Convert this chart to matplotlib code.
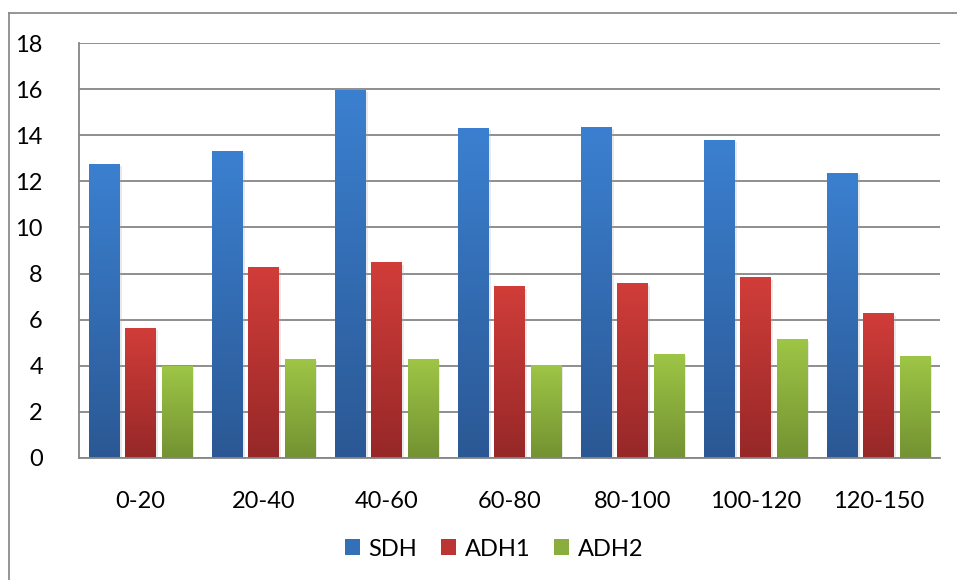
import matplotlib
matplotlib.use("Agg")
import matplotlib.pyplot as plt
import numpy as np
from matplotlib.patches import Patch
from matplotlib.colors import LinearSegmentedColormap
import matplotlib.patheffects as pe

categories = ["0-20", "20-40", "40-60", "60-80", "80-100", "100-120", "120-150"]
sdh = [12.74, 13.31, 15.96, 14.30, 14.35, 13.78, 12.35]
adh1 = [5.66, 8.27, 8.48, 7.44, 7.57, 7.83, 6.27]
adh2 = [4.01, 4.31, 4.31, 4.05, 4.53, 5.18, 4.41]
series_names = ["SDH", "ADH1", "ADH2"]
yticks = [0, 2, 4, 6, 8, 10, 12, 14, 16, 18]

grad = {
    "SDH": ("#3B80D0", "#2B5894"),
    "ADH1": ("#D13D39", "#962828"),
    "ADH2": ("#9EC646", "#739232"),
}
mid = {"SDH": "#3470B8", "ADH1": "#BC3534", "ADH2": "#8AAE3E"}

plt.rcParams['font.family'] = ['Lato', 'DejaVu Sans']

W, H = 957, 580
fig = plt.figure(figsize=(W / 100, H / 100), dpi=100)
ax = fig.add_axes([79 / W, 1 - 458 / H, (940 - 79) / W, (458 - 43) / H])

x = np.arange(len(categories))
width = 0.244
offsets = [-0.293, 0.0, 0.293]
data = [sdh, adh1, adh2]

ax.set_xlim(-0.5, len(categories) - 0.5)
ax.set_ylim(0, 18)

grid_c = "#868686"
for y in yticks:
    ax.axhline(y, color=grid_c, lw=1.3, zorder=1)

for name, vals, off in zip(series_names, data, offsets):
    bars = ax.bar(x + off, vals, width, color=mid[name], zorder=2,
                  path_effects=[pe.SimplePatchShadow(offset=(2, -1.5), shadow_rgbFace="#aaaaaa", alpha=0.25),
                                pe.Normal()])
    top_c, bot_c = grad[name]
    cmap = LinearSegmentedColormap.from_list(name, [bot_c, top_c])
    for b in bars:
        x0, y0 = b.get_x(), b.get_y()
        w, h = b.get_width(), b.get_height()
        g = np.linspace(0, 1, 256).reshape(-1, 1)
        im = ax.imshow(g, cmap=cmap, origin="lower", aspect="auto",
                       extent=[x0, x0 + w, y0, y0 + h], zorder=3, interpolation="bilinear")
        im.set_clip_path(b)

ax.set_xlim(-0.5, len(categories) - 0.5)
ax.set_ylim(0, 18)

for s in ["top", "right"]:
    ax.spines[s].set_visible(False)
for s in ["left", "bottom"]:
    ax.spines[s].set_color(grid_c)
    ax.spines[s].set_linewidth(1.3)
    ax.spines[s].set_zorder(4)

ax.set_yticks(yticks)
ax.set_yticklabels([str(v) for v in yticks], fontsize=17, color="#000000")
ax.set_xticks(x)
ax.set_xticklabels(categories, fontsize=17, color="#000000")
ax.tick_params(axis="y", length=0, pad=26)
ax.tick_params(axis="x", length=0, pad=24)

handles = [Patch(facecolor=mid[n], edgecolor="none", label=n) for n in series_names]
fig.legend(handles=handles, loc="center", bbox_to_anchor=(494 / W, 1 - 549 / H), ncol=3,
           frameon=False, fontsize=17, handlelength=0.65, handleheight=0.65,
           handletextpad=0.35, columnspacing=1.0)

# outer chart border (left and top visible)
fig.add_artist(plt.Line2D([9 / W, 9 / W], [0, 1 - 13 / H], transform=fig.transFigure,
                          color="#8c8c8c", lw=1.3))
fig.add_artist(plt.Line2D([9 / W, 1], [1 - 13 / H, 1 - 13 / H], transform=fig.transFigure,
                          color="#8c8c8c", lw=1.3))

fig.savefig("out.png", dpi=100, facecolor="white")
